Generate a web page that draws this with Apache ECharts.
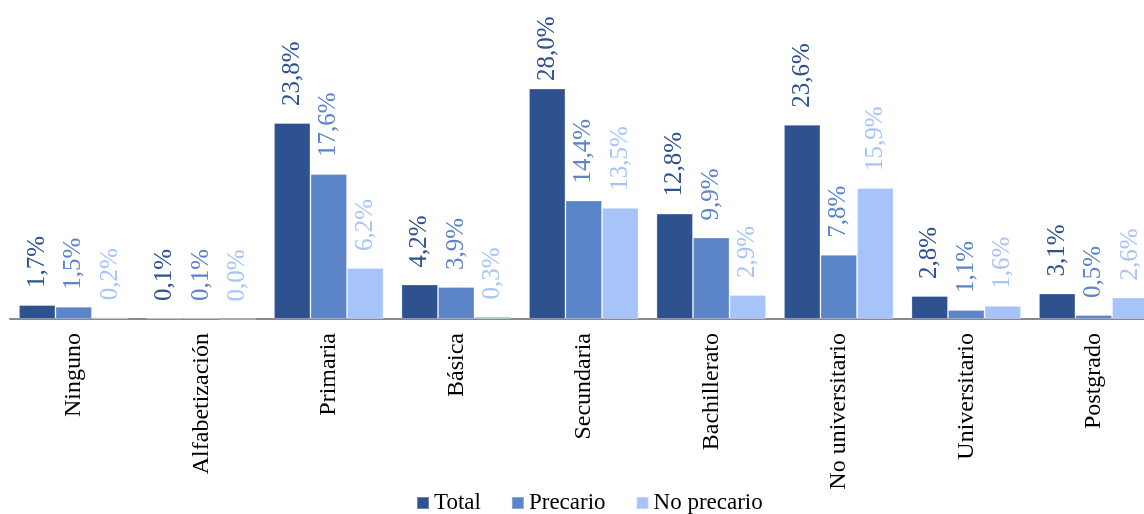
<!DOCTYPE html>
<html>
<head>
<meta charset="utf-8">
<script src="https://cdn.jsdelivr.net/npm/echarts@6/dist/echarts.min.js"></script>
<style>
  html, body { margin: 0; padding: 0; background: #fff; }
  #chart { width: 1144px; height: 514px; }
</style>
</head>
<body>
<div id="chart"></div>
<script>
// Education levels on the category axis
const categories = ['Ninguno', 'Alfabetización', 'Primaria', 'Básica', 'Secundaria',
  'Bachillerato', 'No universitario', 'Universitario', 'Postgrado'];

// Share of workers (%) per education level
const total      = [1.7, 0.1, 23.8, 4.2, 28.0, 12.8, 23.6, 2.8, 3.1];
const precario   = [1.5, 0.1, 17.6, 3.9, 14.4, 9.9, 7.8, 1.1, 0.5];
const noPrecario = [0.2, 0.0, 6.2, 0.3, 13.5, 2.9, 15.9, 1.6, 2.6];

const seriesNames = ['Total', 'Precario', 'No precario'];
const colors = ['#2E5190', '#5B84C9', '#A7C4FA'];

const FONT = '"Liberation Serif", "Times New Roman", serif';

// Plot geometry (the last group runs past the right edge of the canvas)
const GRID_LEFT = 10, GRID_WIDTH = 1147.5;
const GRID_TOP = 72, GRID_HEIGHT = 247, Y_MAX = 30;
const LABEL_GAP = 17, LABEL_LEN = 66, LABEL_TOP_LIMIT = 15;

// 12,3% style labels with a decimal comma
const fmt = v => v.toFixed(1).replace('.', ',') + '%';

// Keep tall-bar labels inside the chart area by shrinking their gap
function withLabelFit(data) {
  const ppu = GRID_HEIGHT / Y_MAX;
  return data.map(v => {
    const barTop = GRID_TOP + GRID_HEIGHT - v * ppu;
    const room = barTop - LABEL_TOP_LIMIT - LABEL_LEN;
    if (room < LABEL_GAP) {
      return { value: v, label: { distance: Math.max(4, room) } };
    }
    return v;
  });
}

function barSeries(name, data, color) {
  return {
    name: name,
    type: 'bar',
    data: withLabelFit(data),
    barGap: '0%',
    barCategoryGap: '14%',
    itemStyle: { color: color, borderColor: 'rgba(255,255,255,0.3)', borderWidth: 1 },
    label: {
      show: true,
      position: 'top',
      rotate: 90,
      align: 'left',
      verticalAlign: 'middle',
      distance: LABEL_GAP,
      color: color,
      fontFamily: FONT,
      fontSize: 25,
      formatter: p => fmt(p.value)
    }
  };
}

const chart = echarts.init(document.getElementById('chart'), null, { renderer: 'canvas' });
chart.setOption({
  animation: false,
  backgroundColor: '#fff',
  color: colors,
  grid: {
    left: GRID_LEFT, width: GRID_WIDTH, top: GRID_TOP, height: GRID_HEIGHT,
    containLabel: false, outerBoundsMode: 'none'
  },
  legend: {
    data: seriesNames,
    left: 411,
    top: 486,
    icon: 'rect',
    itemWidth: 12,
    itemHeight: 12,
    itemGap: 30,
    textStyle: { fontFamily: FONT, fontSize: 23, color: '#000', lineHeight: 24 }
  },
  xAxis: {
    type: 'category',
    data: categories,
    axisLine: { lineStyle: { color: '#898989', width: 2 } },
    axisTick: { show: false },
    axisLabel: {
      rotate: 90,
      margin: 14,
      interval: 0,
      color: '#000',
      fontFamily: FONT,
      fontSize: 24
    }
  },
  yAxis: {
    type: 'value',
    min: 0,
    max: Y_MAX,
    show: false,
    splitLine: { show: false }
  },
  series: [
    barSeries(seriesNames[0], total, colors[0]),
    barSeries(seriesNames[1], precario, colors[1]),
    barSeries(seriesNames[2], noPrecario, colors[2])
  ]
});
</script>
</body>
</html>
